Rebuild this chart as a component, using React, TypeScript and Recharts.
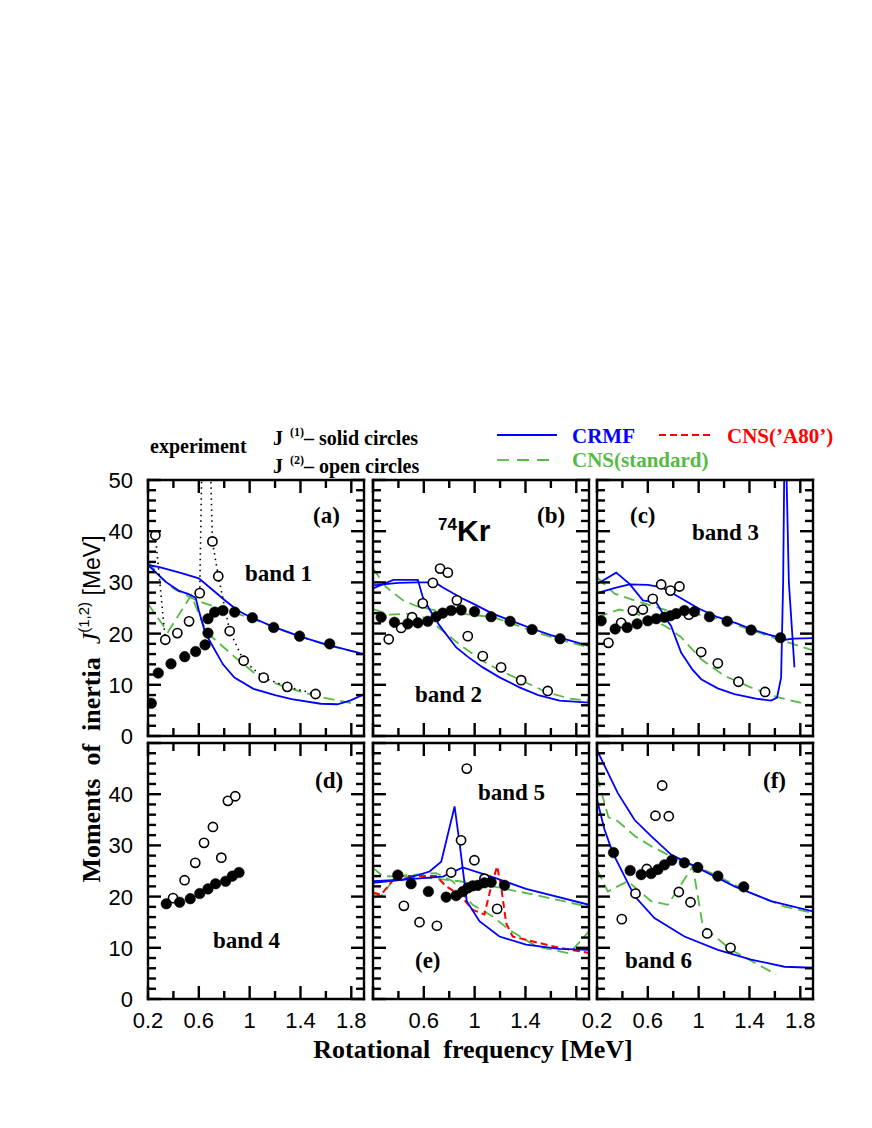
import { ComposedChart, Line, XAxis, YAxis } from "recharts";

// --- experiment: J(1) solid circles, J(2) open circles -------------------
const aJ1 = [[0.226, 6.4], [0.281, 12.3], [0.381, 14.1], [0.489, 15.5], [0.575, 16.5], [0.649, 17.8], [0.672, 20.1], [0.672, 22.9], [0.725, 24.2], [0.79, 24.5], [0.882, 24.2], [1.021, 23.1], [1.189, 21.2], [1.393, 19.5], [1.63, 18.0]];
const aJ2 = [[0.258, 39.2], [0.336, 18.8], [0.431, 20.1], [0.523, 22.4], [0.607, 27.9], [0.707, 38.0], [0.753, 31.2], [0.843, 20.5], [0.953, 14.7], [1.11, 11.4], [1.296, 9.6], [1.519, 8.2]];
const aDotted = [[0.258, 39.2], [0.336, 18.8], [0.4, null], [0.607, 27.9], [0.625, 55], [0.66, null], [0.69, 55], [0.707, 38.0], [0.753, 31.2], [0.843, 20.5], [0.953, 14.7], [1.11, 11.4], [1.296, 9.6], [1.519, 8.2]];

const bJ1 = [[0.264, 23.2], [0.369, 22.2], [0.474, 21.9], [0.553, 22.1], [0.631, 22.4], [0.697, 23.3], [0.749, 24.0], [0.815, 24.5], [0.894, 24.6], [0.999, 24.3], [1.13, 23.3], [1.279, 22.4], [1.452, 20.8], [1.672, 19.0]];
const bJ2 = [[0.324, 18.9], [0.422, 21.1], [0.508, 23.2], [0.592, 25.9], [0.671, 29.9], [0.728, 32.7], [0.789, 31.9], [0.86, 26.5], [0.946, 19.5], [1.064, 15.6], [1.208, 13.4], [1.366, 10.9], [1.575, 8.8]];

const cJ1 = [[0.233, 22.5], [0.343, 20.9], [0.437, 21.2], [0.516, 21.9], [0.6, 22.5], [0.666, 22.9], [0.731, 23.2], [0.778, 23.5], [0.823, 23.9], [0.888, 24.5], [0.967, 24.3], [1.085, 23.3], [1.224, 22.4], [1.413, 20.7], [1.644, 19.2]];
const cJ2 = [[0.29, 18.2], [0.39, 22.1], [0.482, 24.5], [0.561, 24.7], [0.639, 26.8], [0.705, 29.6], [0.778, 28.4], [0.849, 29.2], [0.923, 23.7], [1.02, 16.4], [1.151, 14.2], [1.313, 10.6], [1.523, 8.6]];

const dJ1 = [[0.344, 18.6], [0.449, 18.9], [0.533, 19.6], [0.607, 20.6], [0.672, 21.5], [0.732, 22.5], [0.811, 23.0], [0.864, 24.0], [0.916, 24.7]];
const dJ2 = [[0.397, 19.7], [0.488, 23.2], [0.572, 26.6], [0.641, 30.5], [0.711, 33.6], [0.777, 27.6], [0.829, 38.7], [0.887, 39.6]];

const eJ1 = [[0.395, 24.2], [0.5, 22.5], [0.636, 21.0], [0.776, 19.9], [0.854, 20.2], [0.907, 21.0], [0.946, 21.7], [0.985, 22.1], [1.025, 22.2], [1.077, 22.7], [1.13, 22.8], [1.235, 22.2]];
const eJ2 = [[0.443, 18.2], [0.566, 15.0], [0.703, 14.3], [0.815, 24.7], [0.893, 31.0], [0.938, 45.0], [0.998, 27.1], [1.077, 23.5], [1.177, 17.6]];

const fJ1 = [[0.33, 28.6], [0.461, 25.1], [0.548, 24.3], [0.626, 24.5], [0.679, 25.3], [0.731, 26.2], [0.789, 27.1], [0.888, 26.6], [0.993, 25.7], [1.151, 24.0], [1.355, 21.9]];
const fJ2 = [[0.395, 15.6], [0.503, 20.6], [0.592, 25.4], [0.66, 35.8], [0.713, 41.7], [0.765, 35.7], [0.844, 20.9], [0.936, 18.9], [1.067, 12.8], [1.251, 10.0]];

// --- CRMF (blue) ------------------------------------------------------
const aCrmf1 = [[0.2, 33.4], [0.29, 33.0], [0.45, 31.9], [0.6, 30.8], [0.7, 28.7], [0.8, 26.6], [0.9, 24.6], [1.0, 23.3], [1.2, 21.2], [1.4, 19.4], [1.6, 17.9], [1.9, 16.0]];
const aCrmf2 = [[0.2, 33.4], [0.34, 30.1], [0.44, 28.4], [0.52, 27.7], [0.575, 27.0], [0.6, 24.5], [0.64, 21.0], [0.685, 18.6], [0.79, 14.0], [0.88, 11.4], [1.03, 9.2], [1.2, 8.0], [1.33, 7.2], [1.56, 6.3], [1.69, 6.2], [1.79, 6.9], [1.89, 8.0]];
const bCrmf1 = [[0.2, 29.4], [0.4, 29.9], [0.55, 30.0], [0.69, 30.0], [0.75, 29.0], [0.9, 26.9], [1.0, 25.7], [1.14, 23.9], [1.3, 22.4], [1.46, 20.9], [1.6, 19.7], [1.9, 17.6]];
const bCrmf2 = [[0.2, 28.8], [0.36, 30.5], [0.553, 30.5], [0.592, 27.1], [0.65, 24.5], [0.723, 21.6], [0.855, 17.3], [0.95, 15.4], [1.064, 13.4], [1.2, 11.4], [1.353, 9.5], [1.5, 8.0], [1.668, 6.9], [1.9, 6.5]];
const cCrmf1 = [[0.2, 27.9], [0.35, 29.0], [0.456, 29.6], [0.6, 29.5], [0.705, 29.1], [0.8, 27.8], [0.888, 26.5], [1.0, 24.9], [1.151, 23.2], [1.3, 22.0], [1.413, 20.9], [1.55, 19.8], [1.644, 19.2], [1.676, 18.8], [1.75, 19.0], [1.9, 19.1]];
const cCrmf2 = [[0.2, 29.7], [0.351, 31.9], [0.456, 29.7], [0.561, 26.5], [0.666, 26.1], [0.74, 23.0], [0.783, 21.5], [0.862, 16.3], [0.95, 13.0], [1.02, 11.1], [1.15, 9.3], [1.282, 8.2], [1.45, 7.3], [1.57, 6.9], [1.617, 7.5], [1.649, 11.4], [1.665, 30], [1.675, 55], [1.688, 55], [1.71, 30], [1.754, 13.4]];
const eCrmf1 = [[0.2, 22.7], [0.488, 23.4], [0.75, 23.9], [0.907, 25.7], [1.143, 23.8], [1.405, 21.5], [1.9, 18.4]];
const eCrmf2 = [[0.2, 23.0], [0.435, 23.3], [0.645, 24.9], [0.737, 26.8], [0.842, 37.6], [0.881, 30.5], [0.907, 25.3], [0.938, 19.1], [1.038, 15.2], [1.195, 12.2], [1.405, 10.6], [1.667, 9.8], [1.9, 9.6]];
const fCrmf1 = [[0.2, 48.6], [0.364, 40.2], [0.495, 35.0], [0.626, 31.8], [0.783, 28.2], [0.993, 25.6], [1.282, 22.0], [1.57, 19.1], [1.9, 17.1]];
const fCrmf2 = [[0.2, 38.9], [0.259, 33.1], [0.325, 28.5], [0.495, 20.1], [0.652, 15.8], [0.888, 12.2], [1.151, 9.6], [1.413, 7.7], [1.675, 6.3], [1.9, 6.1]];

// --- CNS(standard) (green) and CNS('A80') (red) -------------------------
const aCns1 = [[0.2, 34.0], [0.3, 31.0], [0.4, 28.8], [0.5, 27.5], [0.6, 26.3], [0.8, 24.7], [1.0, 23.1], [1.2, 21.2], [1.4, 19.4], [1.6, 17.8], [1.9, 16.0]];
const aCns2 = [[0.2, 25.8], [0.357, 20.3], [0.54, 27.5], [0.66, 20.3], [0.87, 15.7], [1.08, 11.4], [1.29, 9.5], [1.52, 7.8], [1.9, 5.9]];
const bCns1 = [[0.2, 32.7], [0.303, 29.1], [0.435, 26.5], [0.55, 25.3], [0.697, 24.5], [0.9, 23.9], [1.143, 23.2], [1.3, 21.9], [1.5, 20.1], [1.7, 18.6], [1.9, 17.3]];
const bCns2 = [[0.2, 24.8], [0.33, 23.7], [0.5, 23.9], [0.62, 23.0], [0.7, 21.5], [0.8, 19.5], [0.9, 17.5], [1.0, 15.8], [1.1, 14.1], [1.25, 12.2], [1.4, 10.5], [1.56, 8.6], [1.75, 7.3], [1.9, 6.9]];
const cCns1 = [[0.2, 31.0], [0.338, 27.8], [0.495, 26.5], [0.757, 24.5], [1.0, 23.7], [1.151, 22.9], [1.4, 20.8], [1.65, 18.7], [1.9, 16.7]];
const cCns2 = [[0.2, 23.2], [0.377, 24.7], [0.5, 23.9], [0.626, 22.9], [0.757, 21.2], [0.862, 19.3], [1.02, 15.0], [1.2, 11.8], [1.41, 9.5], [1.62, 7.6], [1.9, 5.9]];
const eCns1 = [[0.2, 25.6], [0.277, 24.0], [0.618, 23.7], [0.88, 23.0], [1.143, 22.0], [1.5, 20.2], [1.9, 18.0]];
const eCns2 = [[0.2, 20.7], [0.265, 20.1], [0.382, 24.0], [0.697, 24.6], [0.828, 23.0], [0.933, 19.7], [0.985, 18.4], [1.143, 16.1], [1.274, 13.5], [1.484, 10.3], [1.746, 8.9], [1.9, 13.2]];
const fCns1 = [[0.2, 43.5], [0.29, 35.5], [0.36, 34.8], [0.5, 31.8], [0.63, 29.8], [0.78, 27.9], [0.97, 26.0], [1.15, 24.0], [1.41, 20.7], [1.67, 18.1], [1.9, 16.8]];
const fCns2 = [[0.2, 25.3], [0.285, 21.0], [0.443, 23.0], [0.626, 19.1], [0.757, 18.4], [0.954, 25.9], [1.033, 14.2], [1.255, 9.6], [1.61, 4.8]];
const eA80 = [[0.2, 20.8], [0.265, 20.4], [0.382, 24.0], [0.697, 24.0], [0.776, 22.0], [0.881, 20.4], [0.985, 17.4], [1.077, 16.5], [1.13, 22.0], [1.177, 25.9], [1.208, 22.0], [1.248, 14.8], [1.3, 12.2], [1.484, 11.1], [1.667, 10.0], [1.9, 9.0]];

// --- axes ----------------------------------------------------------------
const X_MAJOR = [0.2, 0.6, 1, 1.4, 1.8];
const X_MINOR = [0.4, 0.8, 1.2, 1.6];
const Y_MAJOR = [0, 10, 20, 30, 40, 50];
const Y_MINOR = [2, 4, 6, 8, 12, 14, 16, 18, 22, 24, 26, 28, 32, 34, 36, 38, 42, 44, 46, 48];
const XDOM = [0.2, 1.9];
const YDOM = [0, 50];

const BLUE = "#0000ff";
const GREEN = "#55bb44";
const RED = "#ff0000";
const SERIF = "'Liberation Serif', 'Times New Roman', serif";
const SANS = "'Liberation Sans', Arial, sans-serif";

const COLS = [148, 373, 597];
const ROWS = [480, 743];
const PW = 216;
const PH = 256;
const ML = 60, MT = 10, MR = 10, MB = 50;
const AX = 1; // axis boxes are 1px thick
const BIG = 13, SMALL = 8, TW = 2.4;

type Pt = (number | null)[];
type PanelDef = {
  col: number; row: number;
  crmf: Pt[][]; cns: Pt[][]; a80: Pt[][]; j1: Pt[]; j2: Pt[]; dotted?: Pt[];
  xLabels: number[]; yLabels: number[];
};

const panels: PanelDef[] = [
  { col: 0, row: 0, crmf: [aCrmf1, aCrmf2], cns: [aCns1, aCns2], a80: [], j1: aJ1, j2: aJ2, dotted: aDotted, xLabels: [], yLabels: Y_MAJOR },
  { col: 1, row: 0, crmf: [bCrmf1, bCrmf2], cns: [bCns1, bCns2], a80: [], j1: bJ1, j2: bJ2, xLabels: [], yLabels: [] },
  { col: 2, row: 0, crmf: [cCrmf1, cCrmf2], cns: [cCns1, cCns2], a80: [], j1: cJ1, j2: cJ2, xLabels: [], yLabels: [] },
  { col: 0, row: 1, crmf: [], cns: [], a80: [], j1: dJ1, j2: dJ2, xLabels: X_MAJOR, yLabels: [0, 10, 20, 30, 40] },
  { col: 1, row: 1, crmf: [eCrmf1, eCrmf2], cns: [eCns1, eCns2], a80: [eA80], j1: eJ1, j2: eJ2, xLabels: [0.6, 1, 1.4], yLabels: [] },
  { col: 2, row: 1, crmf: [fCrmf1, fCrmf2], cns: [fCns1, fCns2], a80: [], j1: fJ1, j2: fJ2, xLabels: X_MAJOR, yLabels: [] },
];

const pts = (a: Pt[]) => a.map(([x, y]) => ({ x, y }));

const frame = { stroke: "#000", strokeWidth: 2.4, strokeLinecap: "square" as const };

const xLabelTick = (labels: number[]) => (props: any) => {
  const { x, y, payload } = props;
  if (!labels.includes(payload.value)) return <g />;
  return <text x={x} y={y + 29} textAnchor="middle" fontSize={22} fontFamily={SANS} fill="#000">{payload.value}</text>;
};
const yLabelTick = (labels: number[]) => (props: any) => {
  const { x, y, payload } = props;
  if (!labels.includes(payload.value)) return <g />;
  return <text x={x - 15} y={y + 8} textAnchor="end" fontSize={22} fontFamily={SANS} fill="#000">{payload.value}</text>;
};

function Panel({ p }: { p: PanelDef }) {
  const common = { type: "number" as const, allowDataOverflow: true, interval: 0 as const, tickSize: 0, tickMargin: 0, tickLine: false };
  return (
    <div style={{ position: "absolute", left: COLS[p.col] - ML - AX, top: ROWS[p.row] - MT - AX }}>
      <ComposedChart width={ML + PW + MR + 2 * AX} height={MT + PH + MB + 2 * AX} margin={{ top: MT, right: MR, bottom: MB, left: ML }}>
        <XAxis {...common} dataKey="x" domain={XDOM} ticks={X_MAJOR} height={AX} axisLine={frame} tick={xLabelTick(p.xLabels)} />
        <XAxis {...common} xAxisId="t" orientation="top" dataKey="x" domain={XDOM} ticks={X_MAJOR} height={AX} axisLine={frame} tick={false} />
        <YAxis {...common} domain={YDOM} ticks={Y_MAJOR} width={AX} axisLine={frame} tick={yLabelTick(p.yLabels)} />
        <YAxis {...common} yAxisId="r" orientation="right" domain={YDOM} ticks={Y_MAJOR} width={AX} axisLine={frame} tick={false} />

        {p.cns.map((d, i) => (
          <Line key={"g" + i} data={pts(d)} dataKey="y" type="linear" stroke={GREEN} strokeWidth={1.8}
            strokeDasharray="11 6" dot={false} activeDot={false} isAnimationActive={false} />
        ))}
        {p.a80.map((d, i) => (
          <Line key={"r" + i} data={pts(d)} dataKey="y" type="linear" stroke={RED} strokeWidth={2}
            strokeDasharray="7 4" dot={false} activeDot={false} isAnimationActive={false} />
        ))}
        {p.crmf.map((d, i) => (
          <Line key={"b" + i} data={pts(d)} dataKey="y" type="linear" stroke={BLUE} strokeWidth={1.8}
            dot={false} activeDot={false} isAnimationActive={false} />
        ))}
        {p.dotted && (
          <Line data={pts(p.dotted)} dataKey="y" type="linear" stroke="#000" strokeWidth={1.6}
            strokeDasharray="1.5 4" dot={false} activeDot={false} isAnimationActive={false} />
        )}
        <Line data={pts(p.j2)} dataKey="y" stroke="none" activeDot={false} isAnimationActive={false}
          dot={{ r: 4.6, fill: "#fff", stroke: "#000", strokeWidth: 1.6 }} />
        <Line data={pts(p.j1)} dataKey="y" stroke="none" activeDot={false} isAnimationActive={false}
          dot={{ r: 5.3, fill: "#000", stroke: "#000", strokeWidth: 0.5 }} />
      </ComposedChart>
    </div>
  );
}

// inward tick comb of one panel frame, placed with the same geometry as the charts
function FrameTicks({ col, row }: { col: number; row: number }) {
  const L = COLS[col], T = ROWS[row], R = L + PW, B = T + PH;
  const sx = (v: number) => L + ((v - XDOM[0]) / (XDOM[1] - XDOM[0])) * PW;
  const sy = (v: number) => B - ((v - YDOM[0]) / (YDOM[1] - YDOM[0])) * PH;
  const h = TW / 2;
  const out: any[] = [];
  const xt = [...X_MAJOR.map((v) => [v, BIG]), ...X_MINOR.map((v) => [v, SMALL])];
  const yt = [...Y_MAJOR.map((v) => [v, BIG]), ...Y_MINOR.map((v) => [v, SMALL])];
  xt.forEach(([v, len], i) => {
    const x = sx(v);
    out.push(<rect key={"xb" + i} x={x - h} y={B - len} width={TW} height={len} fill="#000" />);
    out.push(<rect key={"xt" + i} x={x - h} y={T} width={TW} height={len} fill="#000" />);
  });
  yt.forEach(([v, len], i) => {
    const y = sy(v);
    out.push(<rect key={"yl" + i} x={L} y={y - h} width={len} height={TW} fill="#000" />);
    out.push(<rect key={"yr" + i} x={R - len} y={y - h} width={len} height={TW} fill="#000" />);
  });
  return <g>{out}</g>;
}

const panelTexts = [
  { t: "(a)", x: 313, y: 523 }, { t: "(b)", x: 537, y: 523 }, { t: "(c)", x: 630, y: 523 },
  { t: "(d)", x: 315, y: 788 }, { t: "(e)", x: 415, y: 968 }, { t: "(f)", x: 763, y: 788 },
  { t: "band 1", x: 245, y: 581 }, { t: "band 2", x: 415, y: 702 }, { t: "band 3", x: 692, y: 540 },
  { t: "band 4", x: 213, y: 948 }, { t: "band 5", x: 478, y: 800 }, { t: "band 6", x: 625, y: 968 },
];

export default function App() {
  return (
    <div style={{ position: "absolute", left: 0, top: 0, width: 872, height: 1128, background: "#fff" }}>
      {panels.map((p, i) => <Panel key={i} p={p} />)}
      <svg width={872} height={1128} style={{ position: "absolute", left: 0, top: 0, pointerEvents: "none", zIndex: 5 }}>
        {panels.map((p, i) => <FrameTicks key={i} col={p.col} row={p.row} />)}
        <g fontFamily={SERIF} fontWeight="bold" fontSize={20} fill="#000">
          <text x={150} y={453}>experiment</text>
          <text x={273} y={445}>J</text>
          <text x={290} y={436} fontSize={12}>(1)</text>
          <text x={304} y={445}>– solid circles</text>
          <text x={273} y={473}>J</text>
          <text x={290} y={464} fontSize={12}>(2)</text>
          <text x={304} y={473}>– open circles</text>
        </g>
        <g fontFamily={SERIF} fontWeight="bold" fontSize={21}>
          <line x1={497} y1={435} x2={557} y2={435} stroke={BLUE} strokeWidth={1.8} />
          <text x={572} y={443} fill={BLUE}>CRMF</text>
          <line x1={659} y1={435} x2={713} y2={435} stroke={RED} strokeWidth={2} strokeDasharray="7 4" />
          <text x={727} y={443} fill={RED}>CNS(’A80’)</text>
          <line x1={497} y1={460} x2={557} y2={460} stroke={GREEN} strokeWidth={1.8} strokeDasharray="12 8" />
          <text x={572} y={467} fill={GREEN}>CNS(standard)</text>
        </g>
        <g fontFamily={SERIF} fontWeight="bold" fontSize={23} fill="#000">
          {panelTexts.map((l) => <text key={l.t} x={l.x} y={l.y}>{l.t}</text>)}
        </g>
        <g fontFamily={SANS} fontWeight="bold" fill="#000">
          <text x={438} y={530} fontSize={17}>74</text>
          <text x={457} y={541} fontSize={30}>Kr</text>
        </g>
        <text x={473} y={1058} textAnchor="middle" fontFamily={SERIF} fontWeight="bold" fontSize={26}>
          Rotational{"\u00a0\u00a0"}frequency [MeV]
        </text>
        <text x={100} y={709} textAnchor="middle" transform="rotate(-90 100 709)" fontSize={26}>
          <tspan fontFamily={SERIF} fontWeight="bold">Moments{"\u00a0"} of{"\u00a0"} inertia{"\u00a0\u00a0"}</tspan>
          <tspan fontFamily={SERIF} fontStyle="italic">J</tspan>
          <tspan fontFamily={SANS} fontSize={15} dy={-11}>(1,2)</tspan>
          <tspan fontFamily={SANS} fontSize={23} dy={11}> [MeV]</tspan>
        </text>
      </svg>
    </div>
  );
}
